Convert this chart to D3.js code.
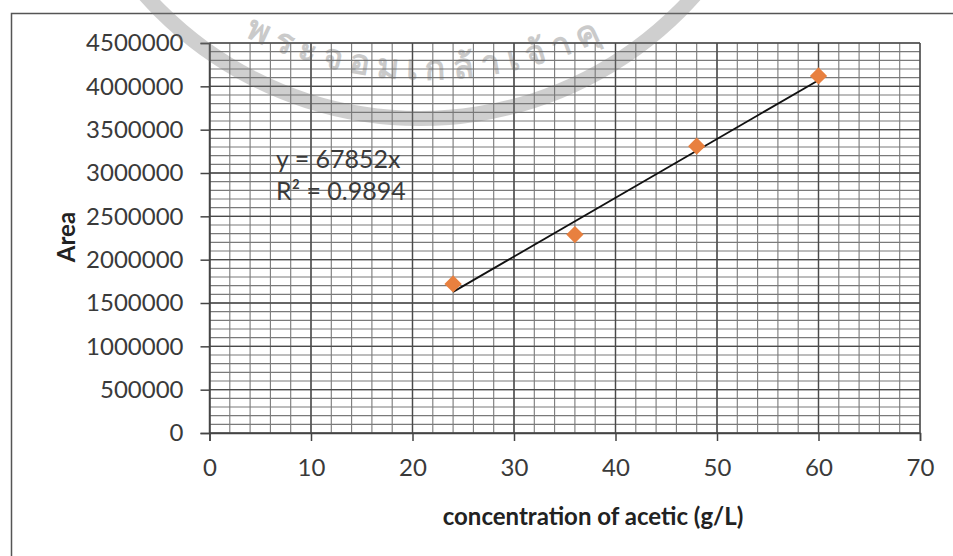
<!DOCTYPE html>
<html>
<head>
<meta charset="utf-8">
<script src="https://cdn.jsdelivr.net/npm/d3@7"></script>
<style>
  body { margin: 0; background: #fff; }
  svg { display: block; font-family: Lato, "Open Sans", sans-serif; }
</style>
</head>
<body>
<svg id="chart" width="953" height="556"></svg>
<script>
// concentration (g/L) and peak area
const concentration = [24, 36, 48, 60];
const area = [1720000, 2290000, 3310000, 4120000];
const slope = 67852;
const equationLines = ["y = 67852x", "R² = 0.9894"];
const xTicks = [0, 10, 20, 30, 40, 50, 60, 70];
const yTicks = [0, 500000, 1000000, 1500000, 2000000, 2500000, 3000000, 3500000, 4000000, 4500000];
const watermarkText = "พระจอมเกล้าเจ้าคุ";

const svg = d3.select("#chart");
const margin = { top: 43, right: 953 - 920, bottom: 556 - 433, left: 209.5 };
const width = 953, height = 556;

// outer chart frame (runs past the picture bottom/right)
svg.append("rect")
  .attr("x", 11.5).attr("y", 13.5)
  .attr("width", 960).attr("height", 600)
  .attr("fill", "none").attr("stroke", "#555").attr("stroke-width", 1.5);

const x = d3.scaleLinear().domain([0, 70]).range([margin.left, width - margin.right]);
const y = d3.scaleLinear().domain([0, 4500000]).range([height - margin.bottom, margin.top]);

// minor gridlines
const grid = svg.append("g");
grid.selectAll(".vminor")
  .data(d3.range(0, 70.01, 2))
  .enter().append("line")
  .attr("x1", d => x(d)).attr("x2", d => x(d))
  .attr("y1", y(0)).attr("y2", y(4500000))
  .attr("stroke", "#7a7a7a").attr("stroke-width", 1.1);
grid.selectAll(".hminor")
  .data(d3.range(0, 4500001, 100000))
  .enter().append("line")
  .attr("x1", x(0)).attr("x2", x(70))
  .attr("y1", d => y(d)).attr("y2", d => y(d))
  .attr("stroke", "#7a7a7a").attr("stroke-width", 1.1);

// major gridlines
grid.selectAll(".vmajor")
  .data(xTicks)
  .enter().append("line")
  .attr("x1", d => x(d)).attr("x2", d => x(d))
  .attr("y1", y(0)).attr("y2", y(4500000))
  .attr("stroke", "#4a4a4a").attr("stroke-width", 1.4);
grid.selectAll(".hmajor")
  .data(yTicks)
  .enter().append("line")
  .attr("x1", x(0)).attr("x2", x(70))
  .attr("y1", d => y(d)).attr("y2", d => y(d))
  .attr("stroke", "#4a4a4a").attr("stroke-width", 1.4);

// axes
const xAxis = svg.append("g")
  .attr("transform", `translate(0,${y(0)})`)
  .call(d3.axisBottom(x).tickValues(xTicks).tickSize(8).tickPadding(18));
const yAxis = svg.append("g")
  .attr("transform", `translate(${x(0)},0)`)
  .call(d3.axisLeft(y).tickValues(yTicks).tickSize(9).tickPadding(17).tickFormat(d3.format("d")));

[xAxis, yAxis].forEach(g => {
  g.select(".domain").attr("stroke", "#444").attr("stroke-width", 1.5);
  g.selectAll(".tick line").attr("stroke", "#444").attr("stroke-width", 1.5);
  g.selectAll(".tick text")
    .attr("fill", "#3a3a3a")
    .style("font-family", "Lato, 'Open Sans', sans-serif")
    .style("font-size", "24px");
});

// trend line through origin, drawn over the data range
const line = d3.line().x(d => x(d)).y(d => y(slope * d));
svg.append("path")
  .datum([d3.min(concentration), d3.max(concentration)])
  .attr("d", line)
  .attr("fill", "none").attr("stroke", "#111").attr("stroke-width", 1.8);

// diamond markers
const points = concentration.map((c, i) => ({ c, a: area[i] }));
svg.selectAll(".pt")
  .data(points)
  .enter().append("path")
  .attr("transform", d => `translate(${x(d.c)},${y(d.a)})`)
  .attr("d", d3.symbol(d3.symbolDiamond2, 190))
  .attr("fill", "#e8803f");

// equation label
svg.append("text")
  .attr("x", 276).attr("y", 168)
  .attr("fill", "#3a3a3a")
  .style("font-size", "25px")
  .selectAll("tspan")
  .data(equationLines)
  .enter().append("tspan")
  .attr("x", 276)
  .attr("dy", (d, i) => i === 0 ? 0 : 32)
  .text(d => d);

// axis titles
svg.append("text")
  .attr("x", 593).attr("y", 525)
  .attr("text-anchor", "middle")
  .attr("fill", "#222")
  .style("font-weight", "bold")
  .style("font-size", "24px")
  .text("concentration of acetic (g/L)");

svg.append("text")
  .attr("transform", "translate(75,237) rotate(-90)")
  .attr("text-anchor", "middle")
  .attr("fill", "#222")
  .style("font-weight", "bold")
  .style("font-size", "24px")
  .text("Area");

// faint scanned seal watermark over the top of the chart
const wm = svg.append("g").attr("opacity", 0.35).attr("pointer-events", "none");
const band = d3.arc().innerRadius(360).outerRadius(375)
  .startAngle(Math.PI * 0.6).endAngle(Math.PI * 1.4);
wm.append("path")
  .attr("transform", "translate(420,-249)")
  .attr("d", band)
  .attr("fill", "#777");
const tcx = 427, tcy = -320, rText = 400;
wm.append("path")
  .attr("id", "wmArc")
  .attr("d", `M${tcx - rText},${tcy} A${rText},${rText} 0 0 0 ${tcx + rText},${tcy}`)
  .attr("fill", "none");
wm.append("text")
  .attr("fill", "#6a6a6a")
  .style("font-size", "34px")
  .style("font-weight", "bold")
  .style("letter-spacing", "8px")
  .append("textPath")
  .attr("href", "#wmArc")
  .attr("startOffset", "50%")
  .attr("text-anchor", "middle")
  .text(watermarkText);
</script>
</body>
</html>
